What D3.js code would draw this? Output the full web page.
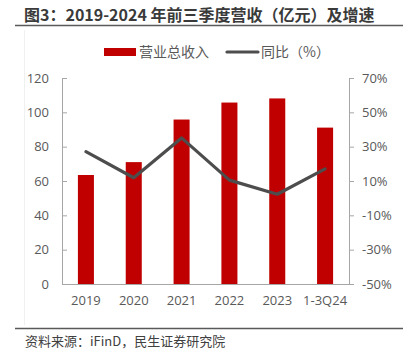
<!DOCTYPE html>
<html><head><meta charset="utf-8">
<script src="https://cdn.jsdelivr.net/npm/d3@7"></script>
<style>
html,body{margin:0;padding:0;background:#fff;}
svg{display:block;font-family:"Open Sans","Noto Sans CJK SC",sans-serif;}
</style></head>
<body><div id="chart"></div>
<script>
const categories = ["2019","2020","2021","2022","2023","1-3Q24"];
const revenue = [63.5, 71.0, 95.8, 105.7, 108.1, 91.1];
const growth = [27.1, 11.9, 35.1, 10.5, 2.3, 17.1];
const leftTicks = [0,20,40,60,80,100,120];
const rightTicks = [-50,-30,-10,10,30,50,70];

const W = 413, H = 350;
const svg = d3.select("#chart").append("svg").attr("width", W).attr("height", H);
const textColor = "#595959", axisColor = "#a6a6a6";

// faint frame line
svg.append("line").attr("x1",24.5).attr("x2",24.5).attr("y1",30).attr("y2",325)
  .attr("stroke","#f0f0f0").attr("stroke-width",1);

// title
svg.append("text").attr("x",24).attr("y",21)
  .attr("font-size",16).attr("font-weight","bold").attr("fill","#3a3a3a")
  .attr("font-family","'Noto Sans CJK SC',sans-serif")
  .text("图3：2019-2024 年前三季度营收（亿元）及增速");
svg.append("line").attr("x1",15).attr("x2",403).attr("y1",25.5).attr("y2",25.5)
  .attr("stroke","#595959").attr("stroke-width",1.5);

const x0 = 62, x1 = 349, yTop = 78, yBot = 284;
const x = d3.scaleBand().domain(categories).range([x0, x1]).paddingInner(0.665).paddingOuter(0.3325);
const yL = d3.scaleLinear().domain([0,120]).range([yBot, yTop]);
const yR = d3.scaleLinear().domain([-50,70]).range([yBot, yTop]);

// bars
svg.append("g").selectAll("rect").data(revenue).join("rect")
  .attr("x",(d,i)=>x(categories[i])).attr("width",x.bandwidth())
  .attr("y",d=>yL(d)).attr("height",d=>yBot-yL(d)).attr("fill","#c00000");

// left axis (ticks inward)
const gL = svg.append("g").attr("transform",`translate(${x0},0)`)
  .call(d3.axisRight(yL).tickValues(leftTicks).tickSize(5).tickSizeOuter(0).tickFormat(""));
gL.selectAll("path,line").attr("stroke",axisColor);
svg.append("g").selectAll("text").data(leftTicks).join("text")
  .attr("x",49).attr("y",d=>yL(d)).attr("dy","0.35em").attr("text-anchor","end")
  .attr("font-size",13).attr("fill",textColor).text(d=>d);

// right axis (ticks outward)
const gR = svg.append("g").attr("transform",`translate(${x1},0)`)
  .call(d3.axisRight(yR).tickValues(rightTicks).tickSize(5).tickSizeOuter(0).tickFormat(""));
gR.selectAll("path,line").attr("stroke",axisColor);
svg.append("g").selectAll("text").data(rightTicks).join("text")
  .attr("x",362).attr("y",d=>yR(d)).attr("dy","0.35em").attr("text-anchor","start")
  .attr("font-size",13).attr("fill",textColor).text(d=>d+"%");

// bottom axis
const gB = svg.append("g").attr("transform",`translate(0,${yBot})`)
  .call(d3.axisBottom(x).tickSize(0).tickSizeOuter(0));
gB.select("path").attr("stroke",axisColor);
gB.selectAll("text").attr("font-size",13).attr("fill",textColor)
  .attr("font-family","'Open Sans',sans-serif").attr("dy","1.35em");

// line
const line = d3.line().x((d,i)=>x(categories[i])+x.bandwidth()/2).y(d=>yR(d));
svg.append("path").datum(growth).attr("d",line).attr("fill","none")
  .attr("stroke","#4d4d4d").attr("stroke-width",3.2).attr("stroke-linejoin","round").attr("stroke-linecap","round");

// legend
svg.append("rect").attr("x",104).attr("y",48).attr("width",32).attr("height",8).attr("fill","#c00000");
svg.append("text").attr("x",139).attr("y",52).attr("dy","0.35em").attr("font-size",14)
  .attr("fill",textColor).attr("font-family","'Noto Sans CJK SC',sans-serif").text("营业总收入");
svg.append("line").attr("x1",227).attr("x2",258).attr("y1",52).attr("y2",52)
  .attr("stroke","#4d4d4d").attr("stroke-width",3.2).attr("stroke-linecap","round");
svg.append("text").attr("x",261).attr("y",52).attr("dy","0.35em").attr("font-size",14)
  .attr("fill",textColor).attr("font-family","'Noto Sans CJK SC',sans-serif").text("同比（%）");

// bottom rule + source
svg.append("line").attr("x1",15).attr("x2",403).attr("y1",328.5).attr("y2",328.5)
  .attr("stroke","#595959").attr("stroke-width",1.5);
svg.append("text").attr("x",25).attr("y",346).attr("font-size",13).attr("fill","#404040")
  .attr("font-family","'Noto Sans CJK SC',sans-serif").text("资料来源：iFinD，民生证券研究院");
</script></body></html>
